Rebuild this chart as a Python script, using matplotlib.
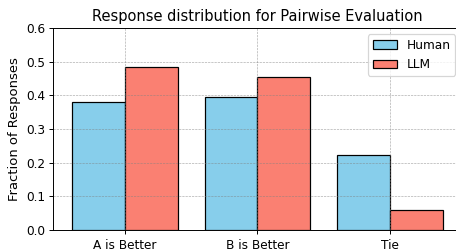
import matplotlib.pyplot as plt
import numpy as np

# Data
categories = ['A is Better', 'B is Better', 'Tie']
human = [0.380, 0.396, 0.222]
llm = [0.485, 0.455, 0.059]

plt.rcParams['font.size'] = 10

dpi = 87.5
fig = plt.figure(figsize=(457 / dpi, 250 / dpi), dpi=dpi)
ax = fig.add_axes([53.5 / 457, 20 / 250, 408 / 457, 202 / 250])

x = np.arange(len(categories))
w = 0.4
ax.bar(x - w / 2, human, w, color='skyblue', edgecolor='black', linewidth=1, label='Human')
ax.bar(x + w / 2, llm, w, color='salmon', edgecolor='black', linewidth=1, label='LLM')

ax.set_ylim(0, 0.6)
ax.set_xticks(x)
ax.set_xticklabels(categories)
ax.set_ylabel('Fraction of Responses', fontsize=10.8)
ax.set_title('Response distribution for Pairwise Evaluation', fontsize=12)
# grid sits on top of the bars, faint short dashes
ax.grid(True, linestyle='--', color='gray', linewidth=0.5, alpha=0.7)
ax.legend(loc='upper right')

fig.savefig('out.png', dpi=dpi)
